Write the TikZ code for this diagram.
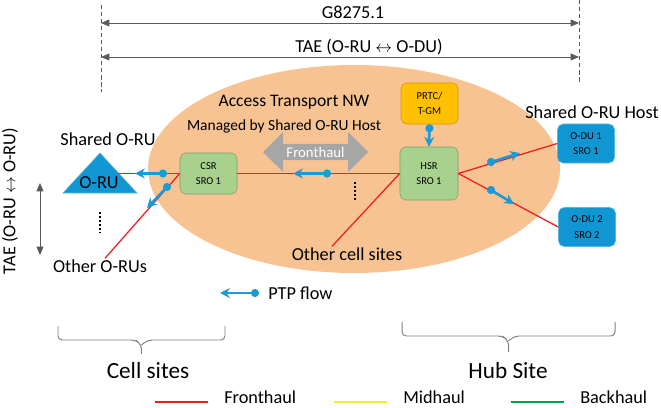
\documentclass[tikz,border=0pt]{standalone}
\usepackage{fontspec}
\setmainfont{Carlito}
\usepackage{tikz}
\usetikzlibrary{positioning, arrows.meta, shapes.arrows, calc}
\definecolor{hubOrange}{RGB}{248,195,146}
\definecolor{ptpBlue}{RGB}{27,155,214}
\definecolor{oduBlue}{RGB}{17,150,212}
\definecolor{routerGreen}{RGB}{169,209,142}
\definecolor{gmGold}{RGB}{255,192,0}
\definecolor{dimGray}{RGB}{89,89,89}
\definecolor{blockGray}{RGB}{166,166,166}
\definecolor{fronthaulRed}{RGB}{240,30,30}
\definecolor{midhaulYellow}{RGB}{240,240,40}
\definecolor{backhaulGreen}{RGB}{0,160,80}
\newcommand{\pix}{0.7112pt}
\tikzstyle{pixelGrid} = [x = 0.025cm, y = -0.025cm]
\tikzstyle{labelText} = [inner sep = 0pt, font=\fontsize{13}{15}\selectfont]
\tikzstyle{titleText} = [inner sep = 0pt, font=\fontsize{12.5}{15}\selectfont]
\tikzstyle{smallText} = [inner sep = 0pt, font=\fontsize{11}{13}\selectfont]
\tikzstyle{siteText} = [inner sep = 0pt, font=\fontsize{16.5}{19}\selectfont]
\tikzstyle{boxStyle} = [rounded corners = 4pt, thin, align=center, inner sep=0pt, font=\fontsize{7.5}{11}\selectfont]
\tikzstyle{routerStyle} = [boxStyle, draw=routerGreen!75!black, fill=routerGreen]
\tikzstyle{gmStyle} = [boxStyle, draw=gmGold!80!black, fill=gmGold, minimum width=57*\pix, minimum height=41*\pix]
\tikzstyle{oduStyle} = [boxStyle, draw=oduBlue!70!white, fill=oduBlue, minimum width=57*\pix, minimum height=39*\pix]
\tikzstyle{oruStyle} = [draw=oduBlue!70!white, fill=oduBlue, thin]
\tikzstyle{blockArrow} = [double arrow, fill=blockGray, text=white, inner sep=0pt, font=\fontsize{10.5}{12}\selectfont, minimum height=105*\pix, minimum width=40*\pix, double arrow head extend=8*\pix]
\tikzstyle{fronthaulLine} = [color=fronthaulRed, line width=0.9pt]
\tikzstyle{ptpFlowStyle} = [color=ptpBlue, line width=1.8pt, {Circle[length=5.7pt]}-{Stealth[length=7pt, width=7pt]}]
\tikzstyle{spanArrow} = [color=dimGray, line width=0.7pt, {Triangle[length=6pt, width=5pt]}-{Triangle[length=6pt, width=5pt]}]
\tikzstyle{markerLine} = [color=dimGray, line width=0.6pt, dash pattern=on 3pt off 2pt]
\tikzstyle{dotColumnStyle} = [color=black, line width=1.3pt, dash pattern=on 1.3pt off 1.6pt]
\tikzstyle{braceStyle} = [color=gray, line width=0.7pt, rounded corners=3pt]
\newcommand{\ptpFlow}[2]{\draw [ptpFlowStyle] (#1) -- (#2);}
\newcommand{\dotColumn}[3]{\draw [dotColumnStyle] (#1, #2) -- (#1, #3);}
\newcommand{\siteBrace}[4]{
  \pgfmathsetmacro{\braceMid}{(#1 + #2) / 2}
  \draw [braceStyle] (#1, #3) -- (#1, #3 + 14) -- (\braceMid - 6, #3 + 14) -- (\braceMid, #3 + 19) -- (\braceMid, #4);
  \draw [braceStyle] (#2, #3) -- (#2, #3 + 14) -- (\braceMid + 6, #3 + 14) -- (\braceMid, #3 + 19);
}
\newcommand{\legendLine}[4]{
  \draw [color=#2, line width=1pt] (#1, 402) -- + (53, 0);
  \node [labelText, anchor=west] (#4) at (#1 + 69, 397) {#3};
}
\begin{document}
\begin{tikzpicture}[pixelGrid]
  \useasboundingbox (0,0) rectangle (661,407);
  \fill [hubOrange] (354,169) ellipse [x radius = 206, y radius = 104];

  \node [labelText] (gLabel) at (353,12) {G8275.1};
  \coordinate (gLeft) at (101,23);
  \coordinate (gRight) at (579,23);
  \draw [spanArrow] (gLeft) -- (gRight);
  \node [labelText] (taeLabel) at (369,47) {TAE (O-RU $\leftrightarrow$ O-DU)};
  \coordinate (taeLeft) at (101,57);
  \coordinate (taeRight) at (579,57);
  \draw [spanArrow] (taeLeft) -- (taeRight);
  \draw [markerLine] (101,5) -- (101,92);
  \draw [markerLine] (579,0) -- (579,83);

  \node [titleText] (accessTitle) at (294,102) {Access Transport NW};
  \node [smallText] (managedLabel) at (284,126) {Managed by Shared O-RU Host};
  \node [blockArrow] (fronthaulArrow) at (315.5,152) {Fronthaul};

  \node [labelText] (sharedOru) at (108,139) {Shared O-RU};
  \filldraw [oruStyle] (100,153) -- (137,193) -- (63,193) -- cycle;
  \node [labelText] (oru) at (99,183) {O-RU};
  \node [labelText] (otherOrus) at (100,266) {Other O-RUs};
  \node [labelText] (otherCells) at (347,254) {Other cell sites};
  \node [labelText] (sharedHost) at (592,112) {Shared O-RU Host};

  \node [routerStyle, minimum width=57*\pix, minimum height=41*\pix] (csr) at (208.5,173.5) {CSR\\SRO 1};
  \node [routerStyle, minimum width=58*\pix, minimum height=53*\pix] (hsr) at (429,173.5) {HSR\\SRO 1};
  \node [gmStyle] (prtc) at (429.5,103.5) {PRTC/\\T-GM};
  \node [oduStyle] (odu1) at (586,143.5) {O-DU 1\\SRO 1};
  \node [oduStyle] (odu2) at (587,227) {O-DU 2\\SRO 2};

  \coordinate (oruPort) at (118,173.5);
  \draw [fronthaulLine] (oruPort) -- (csr.west);
  \draw [fronthaulLine] (csr.east) -- (hsr.west);
  \draw [fronthaulLine] (csr.west) -- ($(otherOrus.north) + (5,-1)$);
  \draw [fronthaulLine] (hsr.west) -- ($(otherCells.north) + (-15,-1)$);
  \draw [fronthaulLine] (hsr.east) -- (odu1.west);
  \draw [fronthaulLine] (hsr.east) -- (odu2.west);

  \coordinate (ptpOruStart) at (167,173.5);
  \coordinate (ptpOruEnd) at (135,173.5);
  \coordinate (ptpOthersStart) at (169.8,184.1);
  \coordinate (ptpOthersEnd) at (147,208);
  \coordinate (ptpCellStart) at (331,173.5);
  \coordinate (ptpCellEnd) at (293,173.5);
  \coordinate (ptpOduOneStart) at (487.2,163.2);
  \coordinate (ptpOduOneEnd) at (520,153);
  \coordinate (ptpOduTwoStart) at (487.6,187.9);
  \coordinate (ptpOduTwoEnd) at (514,204);
  \ptpFlow{ptpOruStart}{ptpOruEnd}
  \ptpFlow{ptpOthersStart}{ptpOthersEnd}
  \ptpFlow{ptpCellStart}{ptpCellEnd}
  \ptpFlow{ptpOduOneStart}{ptpOduOneEnd}
  \ptpFlow{ptpOduTwoStart}{ptpOduTwoEnd}
  \ptpFlow{prtc.south}{hsr.north}

  \dotColumn{100}{212}{233}
  \dotColumn{355}{182}{202}

  \coordinate (oruSpanTop) at (40,183);
  \coordinate (oruSpanBottom) at (40,255);
  \draw [spanArrow] (oruSpanTop) -- (oruSpanBottom);
  \node [labelText, rotate=90] (oruTae) at (10,201) {TAE (O-RU $\leftrightarrow$ O-RU)};

  \coordinate (legendStart) at (259,293);
  \coordinate (legendEnd) at (220,293);
  \ptpFlow{legendStart}{legendEnd}
  \node [labelText, anchor=west] (ptpLegend) at (268,293) {PTP flow};

  \siteBrace{58}{225}{326}{354}
  \siteBrace{402}{615}{322}{352}
  \node [siteText] (cellSites) at (148,371) {Cell sites};
  \node [siteText] (hubSite) at (508,371) {Hub Site};

  \legendLine{155}{fronthaulRed}{Fronthaul}{fronthaulLegend}
  \legendLine{334}{midhaulYellow}{Midhaul}{midhaulLegend}
  \legendLine{511}{backhaulGreen}{Backhaul}{backhaulLegend}
\end{tikzpicture}
\end{document}
